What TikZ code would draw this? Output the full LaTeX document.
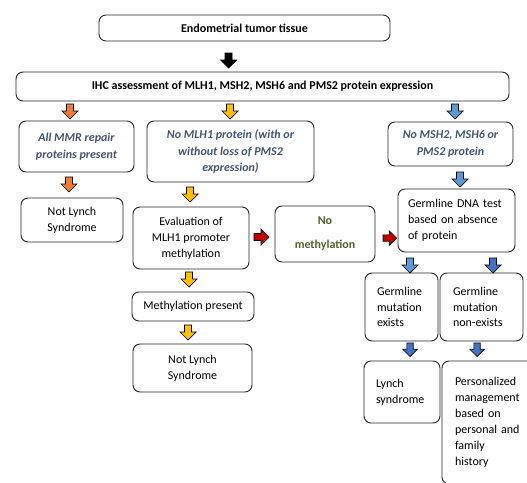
\documentclass[tikz,border=0pt]{standalone}
\usepackage{fontspec}
\setmainfont{Carlito}
\definecolor{itblue}{HTML}{44546A}
\definecolor{olivegreen}{HTML}{4F6228}
\definecolor{aorange}{HTML}{ED7D31}
\definecolor{agold}{HTML}{FFC000}
\definecolor{alblue}{HTML}{5B9BD5}
\definecolor{adblue}{HTML}{4472C4}
\definecolor{ared}{HTML}{C00000}
\definecolor{boxline}{HTML}{262626}
\begin{document}
\begin{tikzpicture}[x=1pt,y=-1pt,
  box/.style={draw=boxline, line width=0.9pt, rounded corners=7pt, inner sep=0pt,
    align=center, font=\fontsize{12}{16}\selectfont},
  sz/.style 2 args={minimum width=#1pt, minimum height=#2pt},
  lbox/.style 2 args={align=left, inner xsep=#1pt, text width=#2pt},
  ital/.style={font=\fontsize{12}{16.5}\selectfont\bfseries\itshape, text=itblue},
  darr/.pic={\draw[line width=0.7pt, draw=black, pic actions]
     (-3.5,0) -- (3.5,0) -- (3.5,7) -- (8,7) -- (0,15) -- (-8,7) -- (-3.5,7) -- cycle;},
  rarr/.pic={\draw[line width=0.7pt, draw=black, pic actions]
     (0,-3.5) -- (0,3.5) -- (7,3.5) -- (7,8) -- (15,0) -- (7,-8) -- (7,-3.5) -- cycle;}
]
\useasboundingbox (0,0) rectangle (527,482);
\clip (0,0) rectangle (527,482);

% boxes
\node[box, sz={291}{26}] (top) at (244.5,28) {\bfseries Endometrial tumor tissue};
\node[box, sz={493}{29}] (ihc) at (262.5,86.5) {\bfseries IHC assessment of MLH1, MSH2, MSH6 and PMS2 protein expression};
\node[box, ital, sz={115}{51}] (allmmr) at (76.5,146.5) {All MMR repair\\proteins present};
\node[box, ital, sz={167}{61}] (nomlh) at (230.5,151.5) {No MLH1 protein (with or\\without loss of PMS2\\expression)};
\node[box, ital, sz={125}{44}] (nomsh) at (450.5,144) {No MSH2, MSH6 or\\PMS2 protein};
\node[box, sz={102}{44}] (notlynchA) at (72,220) {Not Lynch\\Syndrome};
\node[box, sz={116}{62}] (eval) at (191,238) {Evaluation of\\MLH1 promoter\\methylation};
\node[box, sz={100}{56}, font=\fontsize{12}{24}\selectfont\bfseries, text=olivegreen] (nometh) at (325,234) {No\\methylation};
\node[box, sz={117}{63}, lbox={10}{97}] (germ) at (456.5,220.5) {Germline DNA test\\based on absence\\of protein};
\node[box, sz={122}{29}] (methp) at (193,306.5) {Methylation present};
\node[box, sz={119}{48}] (notlynchB) at (192.5,368) {Not Lynch\\Syndrome};
\node[box, sz={73}{68}, lbox={12}{49}, font=\fontsize{12}{15.5}\selectfont] (gex) at (401.5,307) {Germline\\mutation\\exists};
\node[box, sz={83}{68}, lbox={13}{57}, font=\fontsize{12}{15.5}\selectfont] (gnon) at (481.5,307) {Germline\\mutation\\non-exists};
\node[box, sz={76}{62}, lbox={12}{52}] (lynch) at (402,392) {Lynch\\syndrome\\[8pt]};
\node[box, sz={96}{123}, lbox={13}{70}] (pers) at (490,422.5) {Personalized\\management\\based on\\personal and\\family\\history\\[6pt]};

% block arrows
\pic[fill=black] at (228.5,53) {darr};
\pic[fill=aorange] at (70,104) {darr};
\pic[fill=agold] at (230,104) {darr};
\pic[fill=alblue] at (455,104) {darr};
\pic[fill=aorange] at (69,177) {darr};
\pic[fill=agold] at (190,187) {darr};
\pic[fill=alblue] at (460,172) {darr};
\pic[fill=ared] at (254,237) {rarr};
\pic[fill=ared, scale=0.9] at (383,238) {rarr};
\pic[fill=agold] at (189,272) {darr};
\pic[fill=agold] at (188,325) {darr};
\pic[fill=alblue] at (410,258) {darr};
\pic[fill=adblue] at (493,258) {darr};
\pic[fill=adblue, scale=0.9] at (410,343) {darr};
\pic[fill=adblue, scale=0.9] at (477,343) {darr};
\end{tikzpicture}
\end{document}
